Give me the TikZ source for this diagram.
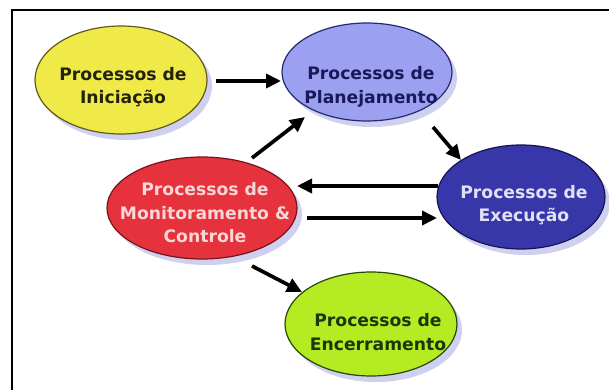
\documentclass[tikz,border=0pt]{standalone}
\usepackage{fontspec}
\setmainfont{DejaVu Sans}
\usetikzlibrary{shapes.geometric,arrows.meta,calc,shadows}
\definecolor{yelfill}{RGB}{240,234,72}
\definecolor{yeldraw}{RGB}{95,90,30}
\definecolor{yeltext}{RGB}{35,35,10}
\definecolor{planfill}{RGB}{155,160,240}
\definecolor{plandraw}{RGB}{40,40,110}
\definecolor{plantext}{RGB}{25,25,90}
\definecolor{redfill}{RGB}{230,50,60}
\definecolor{reddraw}{RGB}{120,20,25}
\definecolor{redtext}{RGB}{250,215,215}
\definecolor{exefill}{RGB}{55,55,170}
\definecolor{exedraw}{RGB}{20,20,80}
\definecolor{exetext}{RGB}{225,225,245}
\definecolor{encfill}{RGB}{180,235,35}
\definecolor{encdraw}{RGB}{40,70,10}
\definecolor{enctext}{RGB}{25,55,10}
\definecolor{shadowc}{RGB}{195,195,235}
\begin{document}
\begin{tikzpicture}[x=1pt,y=-1pt,
  proc/.style={ellipse, draw, line width=1.2pt, inner sep=0pt,
    drop shadow={shadow xshift=5pt, shadow yshift=-6pt, fill=shadowc, opacity=0.8}},
  ptxt/.style={font=\bfseries\fontsize{17.2}{23.5}\selectfont, align=center, inner sep=0pt},
  arr/.style={line width=3.7pt, -{Triangle[length=15pt,width=14pt]}},
  frame/.style={line width=2.5pt, black}]
\useasboundingbox (0,0) rectangle (609,390);
\fill[white] (0,0) rectangle (609,390);
\coordinate (ftl) at (12,10);
\coordinate (fbl) at (12,390);
\coordinate (ftr) at (609,10);
\draw[frame] (fbl) -- ([yshift=1.25pt]ftl) ;
\draw[frame] ([xshift=-1.25pt]ftl) -- (ftr);

\node[proc, fill=yelfill, draw=yeldraw, minimum width=172pt, minimum height=108pt] (yel) at (121,80) {};
\node[ptxt, text=yeltext] (yeltxt) at (123,87) {Processos de\\Iniciação};

\node[proc, fill=planfill, draw=plandraw, minimum width=170pt, minimum height=98pt] (plan) at (367,72) {};
\node[ptxt, text=plantext] (plantxt) at (371,87) {Processos de\\Planejamento};

\node[proc, fill=redfill, draw=reddraw, minimum width=190pt, minimum height=102pt] (red) at (202,208) {};
\node[ptxt, text=redtext] (redtxt) at (205,213) {Processos de\\Monitoramento \&\\Controle};

\node[proc, fill=exefill, draw=exedraw, minimum width=168pt, minimum height=104pt] (exe) at (521,197) {};
\node[ptxt, text=exetext] (exetxt) at (524,205) {Processos de\\Execução};

\node[proc, fill=encfill, draw=encdraw, minimum width=172pt, minimum height=104pt] (enc) at (371,324) {};
\node[ptxt, text=enctext] (enctxt) at (378,332) {Processos de\\Encerramento};

\draw[arr] ($(yel)+(95,1)$) -- ($(plan)+(-86,9)$);
\draw[arr] ($(red)+(50,-50)$) -- ($(plan)+(-62,45)$);
\draw[arr] ($(plan)+(66,55)$) -- ($(exe)+(-60,-37)$);
\draw[arr] ($(exe)+(-83,-11)$) -- ($(red)+(95,-22)$);
\draw[arr] ($(red)+(105,10)$) -- ($(exe)+(-84,21)$);
\draw[arr] ($(red)+(50,58)$) -- ($(enc)+(-69,-32)$);
\end{tikzpicture}
\end{document}
